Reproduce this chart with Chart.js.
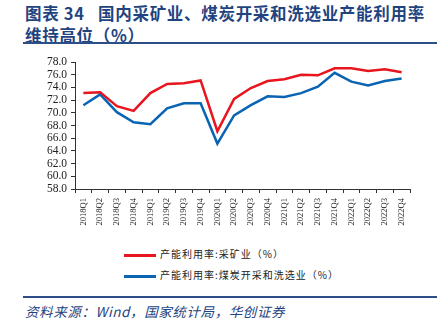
<!DOCTYPE html>
<html>
<head>
<meta charset="utf-8">
<script src="https://cdn.jsdelivr.net/npm/chart.js@4/dist/chart.umd.min.js"></script>
<style>
  body { margin: 0; width: 448px; height: 325px; background: #fff; position: relative; overflow: hidden; }
  .title { position: absolute; left: 25px; top: 2px; white-space: nowrap; font-family: "Noto Sans CJK SC", serif; font-weight: bold; font-size: 16.5px; line-height: 22px; color: #1f4480; letter-spacing: 0.7px; }
  .rule { position: absolute; left: 23px; width: 414px; height: 2px; background: #2b4f86; }
  .legend { position: absolute; left: 124px; font-family: "Noto Sans CJK SC", sans-serif; font-size: 10px; color: #222; letter-spacing: 1px; }
  .legend span.sw { display: inline-block; width: 32px; height: 3px; vertical-align: middle; margin-right: 4px; }
  .src { position: absolute; left: 25px; top: 301px; font-family: "Noto Sans CJK SC", serif; font-style: italic; font-size: 13.5px; color: #1f4480; letter-spacing: 0.6px; }
  #wrap { position: absolute; left: 0; top: 50px; width: 448px; height: 190px; }
</style>
</head>
<body>
<div class="title">图表 34&nbsp;&nbsp;&nbsp;国内采矿业、煤炭开采和洗选业产能利用率<br>维持高位（%）</div>
<div class="rule" style="top:42px"></div>
<div id="wrap"><canvas id="c"></canvas></div>
<div class="legend" style="top:246px"><span class="sw" style="background:#e8141e"></span>产能利用率:采矿业（%）</div>
<div class="legend" style="top:267px"><span class="sw" style="background:#0a64b4"></span>产能利用率:煤炭开采和洗选业（%）</div>
<div class="rule" style="top:296px"></div>
<div class="src">资料来源：Wind，国家统计局，华创证券</div>
<script>
const quarters = ['2018Q1', '2018Q2', '2018Q3', '2018Q4', '2019Q1', '2019Q2', '2019Q3', '2019Q4',
  '2020Q1', '2020Q2', '2020Q3', '2020Q4', '2021Q1', '2021Q2', '2021Q3', '2021Q4',
  '2022Q1', '2022Q2', '2022Q3', '2022Q4'];
const mining = [73.1, 73.25, 71.05, 70.3, 73.1, 74.55, 74.65, 75.1,
  67.1, 72.2, 73.9, 75.0, 75.3, 76.0, 75.9, 77.0,
  77.0, 76.6, 76.85, 76.4];
const coal = [71.2, 72.9, 70.1, 68.5, 68.2, 70.7, 71.5, 71.5,
  65.15, 69.6, 71.2, 72.6, 72.5, 73.1, 74.1, 76.3,
  74.9, 74.3, 75.0, 75.4];
const seriesNames = ['产能利用率:采矿业（%）', '产能利用率:煤炭开采和洗选业（%）'];

const ctx = document.getElementById('c').getContext('2d');
new Chart(ctx, {
  type: 'line',
  data: {
    labels: quarters,
    datasets: [{
      label: seriesNames[0],
      data: mining,
      borderColor: '#e8141e',
      borderWidth: 2.5,
      pointRadius: 0,
      tension: 0,
      fill: false
    }, {
      label: seriesNames[1],
      data: coal,
      borderColor: '#0a64b4',
      borderWidth: 2.5,
      pointRadius: 0,
      tension: 0,
      fill: false
    }]
  },
  options: {
    responsive: true,
    maintainAspectRatio: false,
    animation: false,
    layout: { padding: { top: 12, right: 38, bottom: 0, left: 0 } },
    plugins: { legend: { display: false }, tooltip: { enabled: false } },
    scales: {
      x: {
        offset: true,
        grid: { display: true, drawOnChartArea: false, offset: true, tickLength: 4, color: '#333' },
        border: { color: '#333', width: 1 },
        ticks: {
          maxRotation: 90, minRotation: 90, autoSkip: false, padding: 5,
          color: '#222', font: { family: 'Liberation Serif', size: 8.5 }
        },
        afterFit: (s) => { s.height = 51; }
      },
      y: {
        min: 58, max: 78,
        grid: { display: true, drawOnChartArea: false, tickLength: 4, color: '#333' },
        border: { color: '#333', width: 1 },
        ticks: {
          stepSize: 2, autoSkip: false, padding: 4, color: '#222',
          font: { family: 'Liberation Serif', size: 11.5 },
          callback: (v) => v.toFixed(1)
        },
        afterFit: (s) => { s.width = 75; }
      }
    }
  }
});
</script>
</body>
</html>
